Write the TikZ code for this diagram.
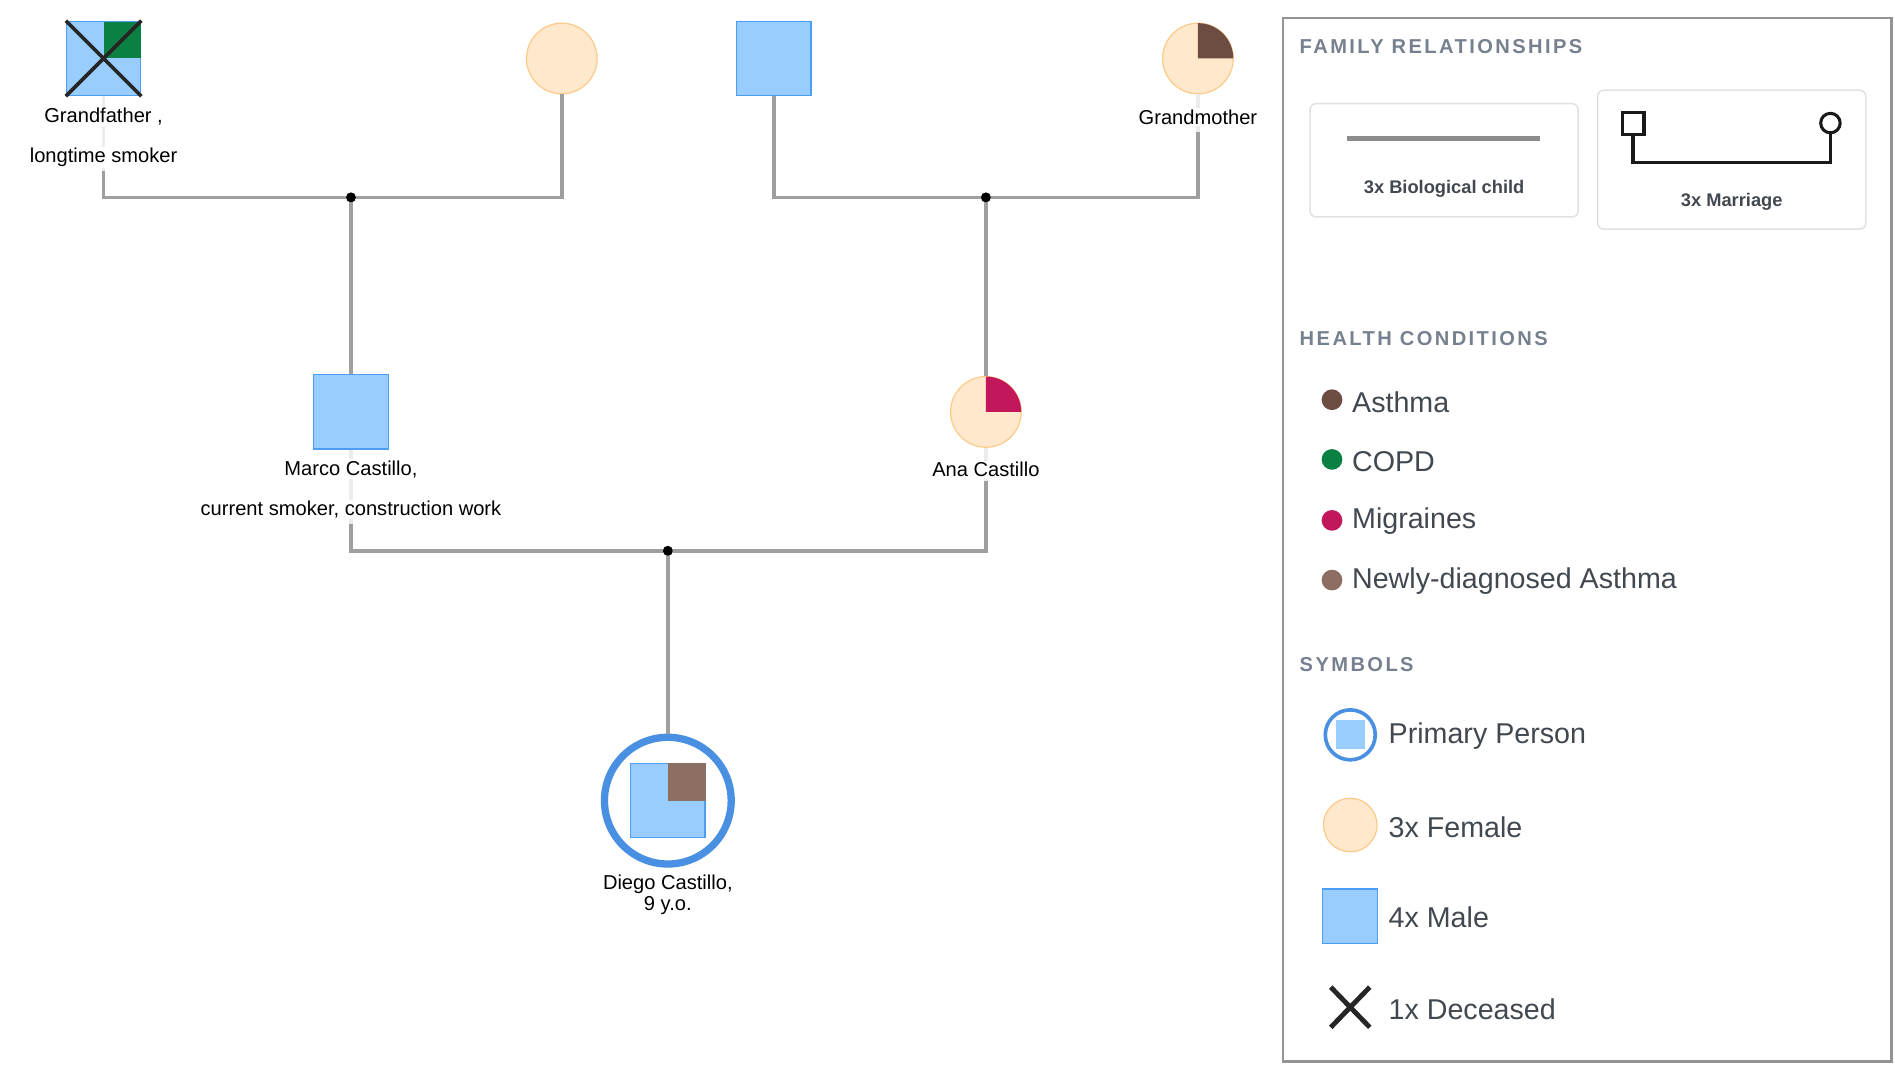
\documentclass[tikz,border=0pt]{standalone}
\usepackage{fontspec}
\setmainfont{Liberation Sans}
\begin{document}
\definecolor{mfill}{HTML}{99CCFF}\definecolor{mline}{HTML}{4A9FF5}
\definecolor{ffill}{HTML}{FFE8CC}\definecolor{fline}{HTML}{FCCB8A}
\definecolor{asth}{HTML}{6D4C41}\definecolor{copd}{HTML}{0B8043}
\definecolor{migr}{HTML}{C2185B}\definecolor{nasth}{HTML}{8D6E63}
\definecolor{hdr}{HTML}{76808E}\definecolor{ltxt}{HTML}{424850}
\definecolor{ring}{HTML}{4A90E2}
\begin{tikzpicture}[x=1pt,y=-1pt,
 male/.style={draw=mline,fill=mfill,minimum size=61pt,inner sep=0,line width=1pt},
 female/.style={circle,draw=fline,fill=ffill,minimum size=58pt,inner sep=0,line width=1pt},
 rel/.style={draw=gray!75,line width=3pt},
 lbl/.style={font=\fontsize{16.5}{19}\selectfont,fill=white,inner sep=1pt},
 dot/.style={circle,fill=black,inner sep=0,minimum size=8pt},
 hd/.style={anchor=west,font=\fontsize{16.5}{19}\selectfont\bfseries\addfontfeatures{LetterSpace=12},text=hdr},
 lg/.style={anchor=west,font=\fontsize{23.5}{27}\selectfont,text=ltxt},
 lbox/.style={draw=black!12,line width=1.2pt,rounded corners=5pt}]
\useasboundingbox (0,0) rectangle (1555,880);
% persons
\node[male] (gf) at (85,48) {};
\fill[copd] (85,18) rectangle (116,48);
\draw[line width=3pt,black!85] (gf.north west)--(gf.south east) (gf.north east)--(gf.south west);
\node[female] (gm1) at (461,48) {};
\node[male] (gf2) at (635,48) {};
\node[female] (gm2) at (983,48) {};
\fill[asth] (983,48) -- ++(29,0) arc (0:-90:29) -- cycle;
\node[male] (marco) at (288,338) {};
\node[female] (ana) at (809,338) {};
\fill[migr] (809,338) -- ++(29,0) arc (0:-90:29) -- cycle;
\node[circle,draw=ring,line width=6pt,minimum size=104pt] (ringd) at (548,657) {};
\node[male] (diego) at (548,657) {};
\fill[nasth] (548,626) rectangle (579,657);
% junctions
\node[dot] (j1) at (288,162) {};
\node[dot] (j2) at (809,162) {};
\node[dot] (j3) at (548,452) {};
% lines
\draw[draw=gray!15,line width=3pt] (gf.south) -- (85,140);
\draw[rel] (85,140) |- (j1.center);
\draw[rel] (gm1.south) |- (j1.center);
\draw[rel] (j1.center) -- (marco.north);
\draw[rel] (gf2.south) |- (j2.center);
\draw[draw=gray!15,line width=3pt] (gm2.south) -- (983,108);
\draw[rel] (983,108) |- (j2.center);
\draw[rel] (j2.center) -- (ana.north);
\draw[draw=gray!15,line width=3pt] (marco.south) -- (288,430) (ana.south) -- (809,395);
\draw[rel] (288,430) |- (j3.center) (809,395) |- (j3.center);
\draw[rel] (j3.center) -- (ringd.north);
\node[dot] at (j1) {};\node[dot] at (j2) {};\node[dot] at (j3) {};
% labels
\node[lbl] at (85,96) {Grandfather ,};
\node[lbl] at (85,129) {longtime smoker};
\node[lbl] at (983,96) {Grandmother};
\node[lbl] at (288,385) {Marco Castillo,};
\node[lbl] at (288,418) {current smoker, construction work};
\node[lbl] at (809,385) {Ana Castillo};
\node[lbl,align=center,font=\fontsize{16.5}{17}\selectfont] at (548,734) {Diego Castillo,\\9 y.o.};
% legend
\draw[draw=gray!85,line width=2pt] (1053,15) rectangle (1552,871);
\node[hd] at (1063,38) {FAMILY RELATIONSHIPS};
\draw[lbox] (1075,85) rectangle (1295,178);
\draw[line width=4pt,gray!90] (1105,114) -- (1264,114);
\node[font=\fontsize{15}{17}\selectfont\bfseries,text=ltxt] at (1185,155) {3x Biological child};
\draw[lbox] (1311,74) rectangle (1531,188);
\draw[line width=2.5pt,black!90] (1340,110) -- (1340,133) -- (1502,133) -- (1502,110);
\draw[line width=2.5pt,black!90] (1331,92) rectangle (1349,110);
\draw[line width=2.5pt,black!90] (1502,101) circle (8);
\node[font=\fontsize{15}{17}\selectfont\bfseries,text=ltxt] at (1421,166) {3x Marriage};
\node[hd] at (1063,278) {HEALTH CONDITIONS};
\fill[asth] (1093,328) circle (8.5); \node[lg] at (1106,330) {Asthma};
\fill[copd] (1093,377) circle (8.5); \node[lg] at (1106,379) {COPD};
\fill[migr] (1093,427) circle (8.5); \node[lg] at (1106,428) {Migraines};
\fill[nasth] (1093,476) circle (8.5); \node[lg] at (1106,477) {Newly-diagnosed Asthma};
\node[hd] at (1063,545) {SYMBOLS};
\draw[ring,line width=3pt] (1108,603) circle (20.5);
\fill[mfill] (1096,591) rectangle (1120,615);
\node[lg] at (1136,604) {Primary Person};
\node[female,minimum size=44pt] at (1108,677) {};
\node[lg] at (1136,679) {3x Female};
\node[male,minimum size=45pt] at (1108,752) {};
\node[lg] at (1136,753) {4x Male};
\draw[line width=4pt,black!85] (1092,810) -- (1124,843) (1124,810) -- (1092,843);
\node[lg] at (1136,828) {1x Deceased};
\end{tikzpicture}
\end{document}
